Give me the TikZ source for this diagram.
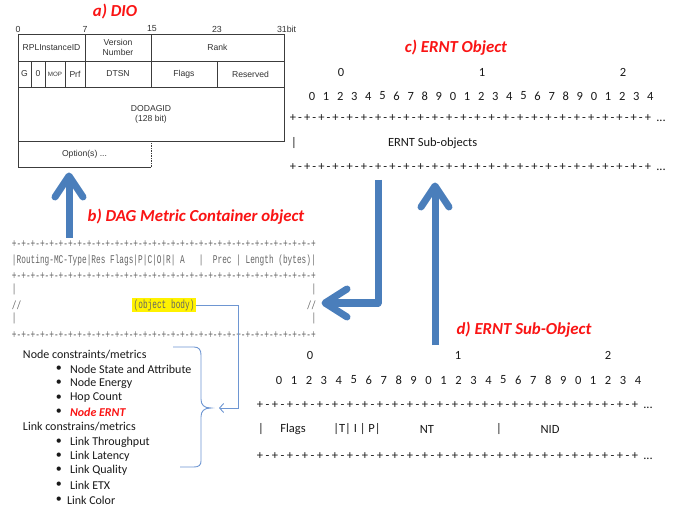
\documentclass[tikz,border=0pt]{standalone}
\usepackage{fontspec}
\setmainfont{Carlito}
\newfontfamily\arialfont{Liberation Sans}
\newfontfamily\courierfont{Liberation Mono}
\usetikzlibrary{arrows.meta,calc}

\definecolor{titlered}{RGB}{250,20,20}
\definecolor{arrowblue}{RGB}{74,126,187}
\definecolor{linkblue}{RGB}{110,150,210}
\definecolor{tableline}{RGB}{60,60,60}
\definecolor{tabletext}{RGB}{50,50,50}
\definecolor{asciigray}{RGB}{100,100,100}
\definecolor{textdark}{RGB}{25,25,25}

% ASCII ruler of the metric container header
\newcommand\pmblock{+-+-+-+-+-+-+-+-}
\newcommand\pmline{\pmblock\pmblock\pmblock\pmblock+}
\newcommand\monorow[1]{\scalebox{0.66}[1]{#1}}

% a row of 26 plus signs with dashes between them, set on one baseline
\newcommand\plusrow[4]{%
  \foreach \j in {0,...,25}{\node[pmtxt] (#1p\j) at ({#2+#3*\j},{#4+4}) {+};}
  \foreach \j in {0,...,24}{\node[pmtxt] (#1m\j) at ({#2+#3*\j+#3/2},{#4+4}) {-};}
  \node[pmtxt] (#1dots) at ({#2+#3*25+13},{#4+4}) {...};
}
% bit numbers 0..4 cycling 0-9
\newcommand\digitrow[4]{%
  \foreach \i in {0,...,24}{%
    \pgfmathtruncatemacro\dg{mod(\i,10)}%
    \node[fieldtxt] (#1d\i) at ({#2+#3*\i},#4) {\dg};}
}

\begin{document}
\begin{tikzpicture}[x=1pt,y=-1pt,
  every node/.style={inner sep=0pt, outer sep=0pt},
  title/.style={font=\fontsize{16.8}{17}\selectfont\bfseries\itshape, text=titlered},
  cell/.style={draw=tableline, line width=0.8pt, font=\arialfont\fontsize{8.6}{10}\selectfont, text=tabletext, align=center},
  bitlbl/.style={font=\arialfont\fontsize{8.8}{9}\selectfont, text=tabletext},
  ascii/.style={font=\courierfont\fontsize{11.8}{12}\selectfont, text=asciigray, anchor=west},
  hilite/.style={ascii, fill=yellow, inner xsep=1.5pt, inner ysep=2pt},
  fieldtxt/.style={font=\fontsize{12.5}{13}\selectfont, text=textdark},
  pmtxt/.style={fieldtxt, anchor=base},
  listtxt/.style={font=\fontsize{12}{13}\selectfont, text=textdark, anchor=west},
  bigarrow/.style={draw=arrowblue, line width=7pt, line join=round},
  barb/.style={draw=arrowblue, line width=7pt, line join=round, line cap=round},
  linkline/.style={draw=linkblue, line width=0.9pt},
]
\fill[white] (0,0) rectangle (681,508);
\useasboundingbox (0,0) rectangle (681,508);

% ---------- a) DIO ----------
\node[title] (ttla) at (115,12) {a) DIO};
\node[bitlbl] (b0) at (18,29) {0};
\node[bitlbl] (b7) at (85,29) {7};
\node[bitlbl] (b15) at (152,29) {15};
\node[bitlbl] (b23) at (217,29) {23};
\node[bitlbl, anchor=west] (b31) at (277,29) {31bit};

\node[cell, minimum width=67, minimum height=27] (rpl) at (51.5,47.5) {RPLInstanceID};
\node[cell, minimum width=66, minimum height=27] (ver) at (118,47.5) {Version\\Number};
\node[cell, minimum width=133, minimum height=27] (rank) at (217.5,47.5) {Rank};
\node[cell, minimum width=13, minimum height=26] (gf) at (24.5,74) {G};
\node[cell, minimum width=14, minimum height=26] (zf) at (38,74) {0};
\node[cell, minimum width=20, minimum height=26, font=\arialfont\fontsize{6.2}{6.5}\selectfont] (mop) at (55,74) {MOP};
\node[cell, minimum width=20, minimum height=26] (prf) at (75,74) {Prf};
\node[cell, minimum width=66, minimum height=26] (dtsn) at (118,74) {DTSN};
\node[cell, minimum width=66, minimum height=26] (dflags) at (184,74) {Flags};
\node[cell, minimum width=67, minimum height=26] (resv) at (250.5,74) {Reserved};
\node[cell, minimum width=266, minimum height=54] (dodag) at (151,114) {DODAGID\\(128 bit)};
\node[cell, draw=none, minimum width=133, minimum height=26] (opt) at (84.5,154) {Option(s) ...};
\draw[tableline, line width=0.8pt] (opt.north west) -- (opt.south west) -- (opt.south east);
\draw[tableline, line width=0.8pt, dash pattern=on 1.5pt off 1pt] (opt.south east) -- (opt.north east);

% ---------- b) DAG Metric Container ----------
\node[title] (ttlb) at (196,217) {b) DAG Metric Container object};
\node[ascii] (r1) at (12,244) {\monorow{\pmline}};
\node[ascii] (r2) at (12,260) {\monorow{|Routing-MC-Type|Res~Flags|P|C|O|R|~A~~~|~~Prec~|~Length~(bytes)|}};
\node[ascii] (r3) at (12,276) {\monorow{\pmline}};
\node[ascii] (r4l) at (12,289) {\monorow{|}};
\node[ascii] (r4r) at (311.5,289) {\monorow{|}};
\node[ascii] (r5l) at (12,305) {\monorow{//}};
\node[hilite] (objbody) at (132.2,305) {\monorow{(object body)}};
\node[ascii] (r5r) at (306.8,305) {\monorow{//}};
\node[ascii] (r6l) at (12,318) {\monorow{|}};
\node[ascii] (r6r) at (311.5,318) {\monorow{|}};
\node[ascii] (r7) at (12,335) {\monorow{\pmline}};

% metric list
\node[listtxt] (nhead) at (23,355) {Node constraints/metrics};
\foreach \n/\t/\yy in {n1/Node State and Attribute/369, n2/Node Energy/383, n3/Hop Count/398,
                       l1/Link Throughput/442, l2/Link Latency/456, l3/Link Quality/470, l4/Link ETX/485}{
  \node[listtxt] (bul\n) at (56,\yy) {\textbullet};
  \node[listtxt] (\n) at (70,\yy) {\t};
}
\node[listtxt] (bulnx) at (56,412) {\textbullet};
\node[listtxt, text=titlered, font=\fontsize{12}{13}\selectfont\bfseries\itshape] (nx) at (70,412) {Node ERNT};
\node[listtxt] (lhead) at (23,427) {Link constrains/metrics};
\node[listtxt] (bull5) at (56,500) {\textbullet};
\node[listtxt] (l5) at (67,500) {Link Color};

% brace and link from the object body
\coordinate (brtip) at (211,408);
\draw[linkline] (173,347) -- (194,347) .. controls (199,347) and (201,350) .. (201,355)
  -- (201,399) .. controls (201,405) and (204,408) .. (brtip)
  .. controls (204,408) and (201,411) .. (201,417)
  -- (201,461) .. controls (201,465) and (199,467) .. (194,467) -- (180,467);
\coordinate (linkend) at (219,408);
\draw[linkline, -{Straight Barb[length=4pt,width=9pt]}] (objbody.east) -- ++(42,0) |- (linkend);

% ---------- c) ERNT Object ----------
\node[title] (ttlc) at (456,48) {c) ERNT Object};
\node[fieldtxt] (ct0) at (341,72) {0};
\node[fieldtxt] (ct1) at (482,72) {1};
\node[fieldtxt] (ct2) at (623,72) {2};
\digitrow{c}{312}{14.1}{96}
\plusrow{ca}{293}{14.2}{118}
\node[fieldtxt] (cbar) at (294,143) {|};
\node[fieldtxt, anchor=west] (csub) at (388,143) {ERNT Sub-objects};
\plusrow{cb}{293}{14.2}{167}

% ---------- d) ERNT Sub-Object ----------
\node[title] (ttld) at (524,330) {d) ERNT Sub-Object};
\node[fieldtxt] (dt0) at (310,355) {0};
\node[fieldtxt] (dt1) at (458,355) {1};
\node[fieldtxt] (dt2) at (608,355) {2};
\digitrow{d}{279}{14.96}{380}
\plusrow{da}{260}{15}{404}
\node[fieldtxt] (dbar1) at (261,429) {|};
\node[fieldtxt] (dflg) at (293,429) {Flags};
\node[fieldtxt] (dtip) at (357,429) {|T|~I~|~P|};
\node[fieldtxt] (dnt) at (427,429) {NT};
\node[fieldtxt] (dbar2) at (499,429) {|};
\node[fieldtxt] (dnid) at (550,429) {NID};
\plusrow{db}{260}{15}{455}

% ---------- block arrows ----------
\coordinate (dio0) at (69,238);
\coordinate (dio1) at (69,176);
\draw[bigarrow] (dio0) -- (dio1);
\draw[barb] ($(dio1)+(-14,21)$) -- (dio1) -- ($(dio1)+(14,21)$);

\coordinate (ern0) at (378,180);
\coordinate (ern1) at (325,303);
\draw[bigarrow] (ern0) |- (ern1);
\draw[barb] ($(ern1)+(22,-14)$) -- (ern1) -- ($(ern1)+(22,14)$);

\coordinate (sub0) at (435,345);
\coordinate (sub1) at (435,186);
\draw[bigarrow] (sub0) -- (sub1);
\draw[barb] ($(sub1)+(-14,21)$) -- (sub1) -- ($(sub1)+(14,21)$);
\end{tikzpicture}
\end{document}
